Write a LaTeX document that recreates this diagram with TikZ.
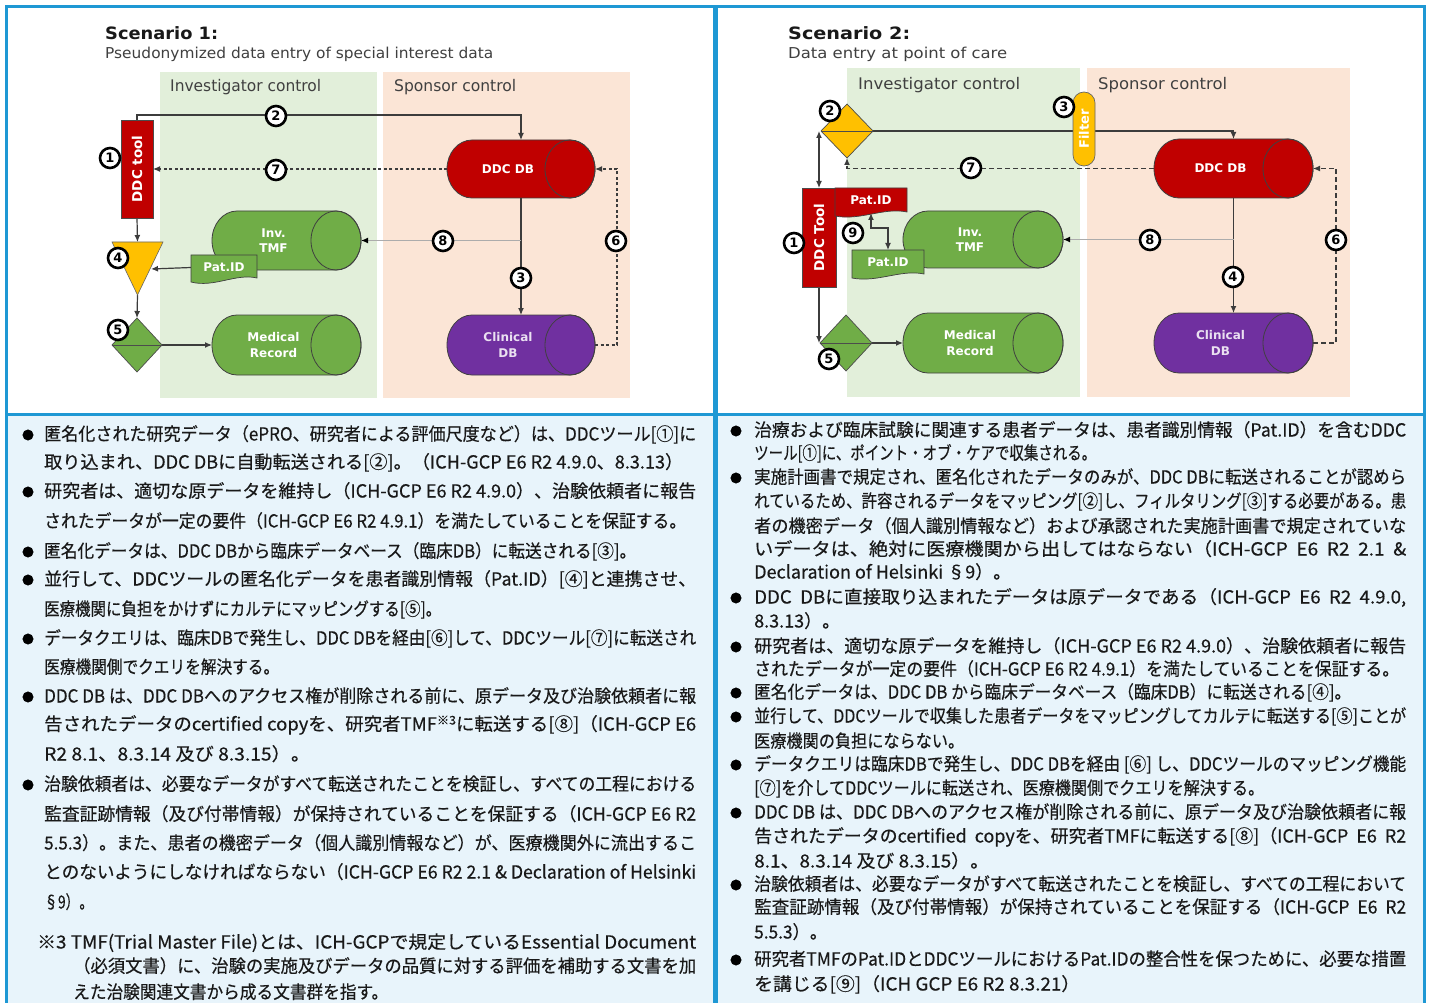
\documentclass[tikz,border=0pt]{standalone}
\usepackage{fontspec}
\setmainfont{DejaVu Sans}
\newfontfamily\jp[FakeBold=0.4]{Noto Sans CJK JP}
\usepackage{graphicx}
\usetikzlibrary{arrows.meta,shapes.geometric,calc}
\definecolor{bl}{RGB}{30,152,212}
\definecolor{tbg}{RGB}{232,244,251}
\definecolor{regG}{RGB}{226,239,218}
\definecolor{regP}{RGB}{251,229,214}
\definecolor{cred}{RGB}{192,0,0}
\definecolor{cgreen}{RGB}{112,173,71}
\definecolor{cpurp}{RGB}{112,48,160}
\definecolor{cyel}{RGB}{255,192,0}
\definecolor{lnc}{RGB}{60,60,60}
\definecolor{txtc}{RGB}{25,25,25}
\definecolor{labc}{RGB}{64,64,64}
\pgfdeclarelayer{bg}\pgfdeclarelayer{lines}\pgfsetlayers{bg,lines,main}
\newcounter{tlc}\newcounter{bc}
\newcommand\tl[4]{\stepcounter{tlc}\node[tline] (tl\arabic{tlc}) at (#1,#2) {\resizebox{#3pt}{\height}{#4}};}
\newcommand\bul[2]{\stepcounter{bc}\node[bulsty] (bu\arabic{bc}) at (#1,#2) {●};}
\newcommand\fitlab[5]{\node[anchor=west,inner sep=0pt,text=#5] (#1) at (#2) {\resizebox{#3pt}{\height}{#4}};}
\newcommand\cyl[8]{% name, cx, cy, w, h, color, label, textcolor
 \node[box, minimum width=#4pt, minimum height=#5pt] (#1) at (#2,#3) {};
 \path[fill=#6, draw=black!75, line width=0.8pt] ([xshift=25pt]#1.north west) -- ([xshift=-25pt]#1.north east)
   arc[start angle=90, end angle=-90, x radius=25pt, y radius=#5pt/2] -- ([xshift=25pt]#1.south west)
   arc[start angle=270, end angle=90, x radius=25pt, y radius=#5pt/2] -- cycle;
 \draw[black!75, line width=0.8pt] ([xshift=-25pt]#1.east) ellipse[x radius=25pt, y radius=#5pt/2];
 \node[wlab, text=#8] (#1-t) at ([xshift=-13pt]#1.center) {#7};
}
\tikzset{
 box/.style={inner sep=0pt, outer sep=0pt},
 ln/.style={draw=lnc, line width=1.2pt},
 flow/.style={ln, -{Latex[length=7pt,width=6pt]}},
 biflow/.style={ln, {Latex[length=7pt,width=6pt]}-{Latex[length=7pt,width=6pt]}},
 dotflow/.style={flow, dash pattern=on 3pt off 2.5pt},
 dashflow/.style={flow, dash pattern=on 5pt off 3pt},
 grayflow/.style={ln, draw=gray!65, line width=1.6pt, -{Latex[length=7pt,width=6pt,color=black]}},
 num/.style={circle, draw=black, line width=2.6pt, fill=white, inner sep=0pt, minimum size=20pt, font=\fontsize{13}{13}\selectfont\bfseries},
 wlab/.style={align=center, text=white, font=\bfseries\fontsize{12}{15.5}\selectfont},
 redbox/.style={box, draw=black!70, fill=cred, text=white, line width=0.7pt, font=\bfseries\fontsize{13.5}{13.5}\selectfont},
 docsty/.style={draw=black!75, line width=0.7pt},
 dia/.style={diamond, draw=black!70, line width=0.7pt, inner sep=0pt, outer sep=0pt},
 tline/.style={anchor=west, inner sep=0pt, text=txtc, text height=15pt, text depth=4pt, font=\jp\fontsize{18}{18}\selectfont},
 bulsty/.style={inner sep=0pt, text=black, font=\jp\fontsize{12}{12}\selectfont},
 bord/.style={draw=bl, line width=3pt}
}
\begin{document}
\begin{tikzpicture}[x=1pt,y=-1pt]
\useasboundingbox (0,0) rectangle (1430,1003);
\begin{pgfonlayer}{bg}
\fill[white] (0,0) rectangle (1430,1003);
\fill[tbg] (7,415) rectangle (714,1003);
\fill[tbg] (716,415) rectangle (1424,1003);
\fill[regG] (160,72) rectangle (377,398);
\fill[regP] (383,72) rectangle (630,398);
\fill[regG] (847,68) rectangle (1080,397);
\fill[regP] (1087,68) rectangle (1350,397);
\draw[bord] (6,7) rectangle (714,414);
\draw[bord] (716,7) rectangle (1424,414);
\draw[bord] (6,414) -- (6,1010);
\draw[bord] (714,414) -- (714,1010);
\draw[bord] (716,414) -- (716,1010);
\draw[bord] (1424,414) -- (1424,1010);
\end{pgfonlayer}

% ---------- titles ----------
\fitlab{ti1}{105,33}{113}{\bfseries\fontsize{17}{17}\selectfont Scenario 1:}{txtc}
\fitlab{st1}{105,54}{388}{\fontsize{15}{15}\selectfont Pseudonymized data entry of special interest data}{labc}
\fitlab{ti2}{788,33}{122}{\bfseries\fontsize{17}{17}\selectfont Scenario 2:}{txtc}
\fitlab{st2}{788,54}{219}{\fontsize{15}{15}\selectfont Data entry at point of care}{labc}
\fitlab{ic1}{170,87}{151}{\fontsize{16}{16}\selectfont Investigator control}{labc}
\fitlab{sc1}{394,87}{122}{\fontsize{16}{16}\selectfont Sponsor control}{labc}
\fitlab{ic2}{858,85}{162}{\fontsize{16}{16}\selectfont Investigator control}{labc}
\fitlab{sc2}{1098,85}{129}{\fontsize{16}{16}\selectfont Sponsor control}{labc}

% ---------- Scenario 1 shapes ----------
\node[redbox, minimum width=32pt, minimum height=98pt] (ddc1) at (137,169) {\rotatebox{90}{DDC tool}};
\cyl{db1}{521}{169}{148}{58}{cred}{DDC DB}{white}
\cyl{tmf1}{286.5}{240.5}{149}{59}{cgreen}{Inv.\\TMF}{white}
\cyl{mr1}{286.5}{345}{149}{60}{cgreen}{Medical\\Record}{white}
\cyl{cl1}{521}{345}{148}{60}{cpurp}{Clinical\\DB}{white!85!cpurp}
\path[docsty, fill=cgreen] (191,255) -- (257,255) -- (257,278) .. controls (236,273) and (214,288) .. (191,282) -- cycle;
\node[box, wlab, minimum width=66pt, minimum height=25pt] (pat1) at (224,267.5) {Pat.ID};
\path[fill=cyel, draw=black!60, line width=0.6pt] (112,242) -- (163,242) -- (137.5,295) -- cycle;
\node[box, minimum width=51pt, minimum height=53pt] (tri) at (137.5,268.5) {};
\coordinate (triR) at (151,269);
\node[dia, fill=cgreen, minimum width=50pt, minimum height=54pt] (dia1) at (137,345) {};
\draw[black!70, line width=0.7pt] (dia1.west) -- (dia1.east);

\begin{pgfonlayer}{lines}
\draw[flow] (ddc1.north) -- ++(0,-5) -| (db1.north);
\draw[dotflow] (db1.west) -- (ddc1.east);
\draw[dotflow] (cl1.east) -- ++(22,0) |- (db1.east);
\draw[flow] (db1.south) -- (cl1.north);
\draw[grayflow] (db1.south |- tmf1.east) -- (tmf1.east);
\draw[flow] (ddc1.south) -- (tri.north);
\draw[flow] (pat1.west) -- (triR);
\draw[flow] (tri.south) -- (dia1.north);
\draw[flow] (dia1.east) -- (mr1.west);
\end{pgfonlayer}

\node[num] (a1) at (110,158) {1};
\node[num] (a2) at (276,116) {2};
\node[num] (a7) at (276,170) {7};
\node[num] (a8) at (443,241) {8};
\node[num] (a6) at (616,241) {6};
\node[num] (a3) at (521,278) {3};
\node[num] (a4) at (118,258) {4};
\node[num] (a5) at (118,330) {5};

% ---------- Scenario 2 shapes ----------
\node[redbox, minimum width=34pt, minimum height=99pt] (ddc2) at (819,237.5) {\rotatebox{90}{DDC Tool}};
\cyl{tmf2}{983}{239.5}{160}{57}{cgreen}{Inv.\\TMF}{white}
\cyl{mr2}{983}{343}{160}{60}{cgreen}{Medical\\Record}{white}
\cyl{db2}{1233.5}{168.5}{159}{59}{cred}{DDC DB}{white}
\cyl{cl2}{1233.5}{343}{159}{60}{cpurp}{Clinical\\DB}{white!85!cpurp}
\path[docsty, fill=cred] (835,188) -- (907,188) -- (907,212) .. controls (884,207) and (860,221) .. (835,216) -- cycle;
\node[box, wlab, minimum width=72pt, minimum height=25pt] (patr) at (871,200.5) {Pat.ID};
\path[docsty, fill=cgreen] (852,250) -- (924,250) -- (924,274) .. controls (901,269) and (877,283) .. (852,278) -- cycle;
\node[box, wlab, minimum width=72pt, minimum height=25pt] (patg) at (888,262.5) {Pat.ID};
\node[dia, fill=cyel, minimum width=52pt, minimum height=54pt] (dia2) at (847,131) {};
\draw[black!70, line width=0.7pt] (dia2.west) -- (dia2.east);
\node[dia, fill=cgreen, minimum width=52pt, minimum height=56pt] (dia5) at (846,343) {};
\draw[black!70, line width=0.7pt] (dia5.west) -- (dia5.east);
\node[box, draw=black!60, fill=cyel, rounded corners=11pt, line width=0.7pt, minimum width=22pt, minimum height=74pt, text=white, font=\bfseries\fontsize{13}{13}\selectfont] (filt) at (1084,129) {\rotatebox{90}{Filter}};

\begin{pgfonlayer}{lines}
\draw[ln] (dia2.east) -- (dia2.east -| filt.west);
\draw[flow] (dia2.east -| filt.east) -| (db2.north);
\draw[dashflow] (db2.west) -| (dia2.south);
\draw[biflow] (ddc2.north) -- (ddc2.north |- dia2.west);
\draw[flow] (ddc2.south) -- (ddc2.south |- dia5.west);
\draw[flow] (dia5.east) -- (mr2.west);
\draw[biflow] (patr.south) -- ++(0,15) -| (patg.north);
\draw[flow] (db2.south) -- (cl2.north);
\draw[grayflow] (db2.south |- tmf2.east) -- (tmf2.east);
\draw[dashflow] (cl2.east) -- ++(23,0) |- (db2.east);
\end{pgfonlayer}

\node[num] (b2) at (830,111) {2};
\node[num] (b3) at (1064,107) {3};
\node[num] (b7) at (971,168) {7};
\node[num] (b1) at (794,243) {1};
\node[num] (b9) at (853,233) {9};
\node[num] (b5) at (829,359) {5};
\node[num] (b8) at (1150,240) {8};
\node[num] (b6) at (1336,240) {6};
\node[num] (b4) at (1233,277) {4};

% ---------- left text ----------
\bul{28}{435}\bul{28}{492}\bul{28}{552}\bul{28}{580}\bul{28}{639}\bul{28}{697}\bul{28}{785}
\tl{44}{435}{652}{匿名化された研究データ（ePRO、研究者による評価尺度など）は、DDCツール[①]に}
\tl{44}{463}{639}{取り込まれ、DDC DBに自動転送される[②]。（ICH-GCP E6 R2 4.9.0、8.3.13）}
\tl{44}{492}{652}{研究者は、適切な原データを維持し（ICH-GCP E6 R2 4.9.0）、治験依頼者に報告}
\tl{44}{522}{642}{されたデータが一定の要件（ICH-GCP E6 R2 4.9.1）を満たしていることを保証する。}
\tl{44}{552}{592}{匿名化データは、DDC DBから臨床データベース（臨床DB）に転送される[③]。}
\tl{44}{580}{652}{並行して、DDCツールの匿名化データを患者識別情報（Pat.ID）[④]と連携させ、}
\tl{44}{610}{397}{医療機関に負担をかけずにカルテにマッピングする[⑤]。}
\tl{44}{639}{652}{データクエリは、臨床DBで発生し、DDC DBを経由[⑥]して、DDCツール[⑦]に転送され}
\tl{44}{668}{235}{医療機関側でクエリを解決する。}
\tl{44}{697}{652}{DDC DB は、DDC DBへのアクセス権が削除される前に、原データ及び治験依頼者に報}
\tl{44}{725}{652}{告されたデータのcertified copyを、研究者TMF\raisebox{6pt}{\fontsize{12}{12}\selectfont ※3}に転送する[⑧]（ICH-GCP E6}
\tl{44}{755}{266}{R2 8.1、8.3.14 及び 8.3.15）。}
\tl{44}{785}{652}{治験依頼者は、必要なデータがすべて転送されたことを検証し、すべての工程における}
\tl{44}{815}{652}{監査証跡情報（及び付帯情報）が保持されていることを保証する（ICH-GCP E6 R2}
\tl{44}{844}{652}{5.5.3）。また、患者の機密データ（個人識別情報など）が、医療機関外に流出するこ}
\tl{44}{873}{652}{とのないようにしなければならない（ICH-GCP E6 R2 2.1 \& Declaration of Helsinki}
\tl{44}{903}{49}{§9）。}
\tl{37}{943}{659}{※3 TMF(Trial Master File)とは、ICH-GCPで規定しているEssential Document}
\tl{73}{967}{623}{（必須文書）に、治験の実施及びデータの品質に対する評価を補助する文書を加}
\tl{73}{993}{315}{えた治験関連文書から成る文書群を指す。}

% ---------- right text ----------
\bul{736}{431}\bul{736}{478}\bul{736}{598}\bul{736}{647}\bul{736}{693}\bul{736}{717}\bul{736}{765}\bul{736}{813}\bul{736}{885}\bul{736}{960}
\tl{754}{431}{652}{治療および臨床試験に関連する患者データは、患者識別情報（Pat.ID）を含むDDC}
\tl{754}{454}{342}{ツール[①]に、ポイント・オブ・ケアで収集される。}
\tl{754}{478}{652}{実施計画書で規定され、匿名化されたデータのみが、DDC DBに転送されることが認めら}
\tl{754}{502}{652}{れているため、許容されるデータをマッピング[②]し、フィルタリング[③]する必要がある。患}
\tl{754}{527}{652}{者の機密データ（個人識別情報など）および承認された実施計画書で規定されていな}
\tl{754}{550}{652}{いデータは、絶対に医療機関から出してはならない（ICH-GCP\ \ E6\ \ R2\ \ 2.1\ \ \&}
\tl{754}{573}{257}{Declaration of Helsinki §9）。}
\tl{754}{598}{652}{DDC\ \ DBに直接取り込まれたデータは原データである（ICH-GCP\ \ E6\ \ R2\ \ 4.9.0,}
\tl{754}{622}{86}{8.3.13）。}
\tl{754}{647}{652}{研究者は、適切な原データを維持し（ICH-GCP E6 R2 4.9.0）、治験依頼者に報告}
\tl{754}{670}{645}{されたデータが一定の要件（ICH-GCP E6 R2 4.9.1）を満たしていることを保証する。}
\tl{754}{693}{597}{匿名化データは、DDC DB から臨床データベース（臨床DB）に転送される[④]。}
\tl{754}{717}{652}{並行して、DDCツールで収集した患者データをマッピングしてカルテに転送する[⑤]ことが}
\tl{754}{742}{210}{医療機関の負担にならない。}
\tl{754}{765}{652}{データクエリは臨床DBで発生し、DDC DBを経由 [⑥] し、DDCツールのマッピング機能}
\tl{754}{789}{510}{[⑦]を介してDDCツールに転送され、医療機関側でクエリを解決する。}
\tl{754}{813}{652}{DDC DB は、DDC DBへのアクセス権が削除される前に、原データ及び治験依頼者に報}
\tl{754}{837}{652}{告されたデータのcertified\ \ copyを、研究者TMFに転送する[⑧]（ICH-GCP\ \ E6\ \ R2}
\tl{754}{862}{235}{8.1、8.3.14 及び 8.3.15）。}
\tl{754}{885}{652}{治験依頼者は、必要なデータがすべて転送されたことを検証し、すべての工程において}
\tl{754}{908}{652}{監査証跡情報（及び付帯情報）が保持されていることを保証する（ICH-GCP\ \ E6\ \ R2}
\tl{754}{933}{73}{5.5.3）。}
\tl{754}{960}{652}{研究者TMFのPat.IDとDDCツールにおけるPat.IDの整合性を保つために、必要な措置}
\tl{754}{985}{326}{を講じる[⑨]（ICH GCP E6 R2 8.3.21）}
\end{tikzpicture}
\end{document}
